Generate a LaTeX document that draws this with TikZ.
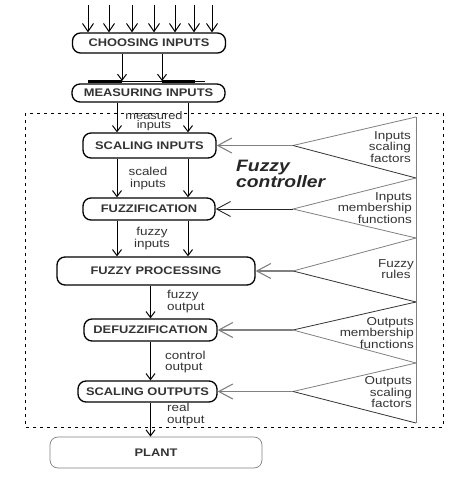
\documentclass[tikz,border=0pt]{standalone}
\usepackage{fontspec}
\setmainfont[FakeStretch=1.17]{Liberation Sans}
\usetikzlibrary{arrows.meta}
\tikzset{
  bloc/.style={draw, line width=1.3pt, rounded corners=8pt, inner sep=0pt, text=black!80,
    font=\bfseries\fontsize{11}{11}\selectfont},
  etiq/.style={inner sep=0pt, align=center, text=black!80, font=\fontsize{11.5}{11.5}\selectfont},
  fleche/.style={line width=1pt, -{Straight Barb[length=6pt,width=9pt]}},
  consigne/.style={line width=1.1pt, -{Straight Barb[length=14pt,width=15pt]}},
  cone/.style={line width=0.8pt}
}
\begin{document}
\begin{tikzpicture}[x=1pt, y=-1pt]
    \useasboundingbox (0,0) rectangle (475,495);
    % Cadre du controleur
    \draw[dashed, dash pattern=on 3pt off 4pt, line width=0.6pt] (25,113) rectangle (443,427);
    % Blocs
    \node[bloc, minimum width=153pt, minimum height=20pt] (choix) at (149,43) {CHOOSING INPUTS};
    \node[bloc, minimum width=153pt, minimum height=18pt] (mesure) at (148.5,93) {MEASURING INPUTS};
    \node[bloc, minimum width=133pt, minimum height=25pt] (echin) at (149.5,145.5) {SCALING INPUTS};
    \node[bloc, minimum width=132pt, minimum height=22pt] (fuzz) at (149,209) {FUZZIFICATION};
    \node[bloc, minimum width=198pt, minimum height=28pt] (proc) at (156,271) {FUZZY PROCESSING};
    \node[bloc, minimum width=133pt, minimum height=22pt] (defuzz) at (150.5,330) {DEFUZZIFICATION};
    \node[bloc, minimum width=139pt, minimum height=21pt] (echout) at (147.5,391.5) {SCALING OUTPUTS};
    \node[bloc, draw=gray, line width=0.7pt, minimum width=212pt, minimum height=31pt] (plant) at (156,452.5) {PLANT};
    % Entrees
    \foreach \x in {88,109,132,154,175,194,212} {
        \coordinate (e\x) at (\x,5);
        \draw[fleche, -{Straight Barb[length=8pt,width=11pt]}] (e\x) -- (e\x |- choix.north);
    }
    % Barre de mesure
    \coordinate (b1) at (88,81);
    \coordinate (b2) at (205,81);
    \coordinate (g) at (122,0);
    \coordinate (d) at (162,0);
    \draw[line width=0.8pt] (b1) -- (b2);
    \draw[line width=3pt] (b1) -- (b1 -| g);
    \draw[line width=3pt] (b1 -| d) -- (195,81);
    \draw[fleche] (choix.south -| g) -- (b1 -| g);
    \draw[fleche] (choix.south -| d) -- (b1 -| d);
    % Fleches verticales
    \coordinate (L) at (117,0);
    \coordinate (R) at (188,0);
    \draw[fleche] (mesure.south -| L) -- (echin.north -| L);
    \draw[fleche] (mesure.south -| R) -- (echin.north -| R);
    \draw[fleche] (echin.south -| L) -- (fuzz.north -| L);
    \draw[fleche] (echin.south -| R) -- (fuzz.north -| R);
    \draw[fleche] (fuzz.south -| L) -- (proc.north -| L);
    \draw[fleche] (fuzz.south -| R) -- (proc.north -| R);
    \draw[fleche] (proc.south -| defuzz.north) -- (defuzz.north);
    \draw[fleche] (defuzz.south) -- (defuzz.south |- echout.north);
    \draw[fleche] (echout.south -| defuzz.south) -- (defuzz.south |- plant.north);
    % Etiquettes des signaux
    \node[etiq, font=\fontsize{11}{9.5}\selectfont] (l1) at (154,121) {measured\\inputs};
    \node[etiq] (l2) at (148,178.5) {scaled\\inputs};
    \node[etiq] (l3) at (152,238.5) {fuzzy\\inputs};
    \node[etiq, align=left, anchor=west] (l4) at (167,301.5) {fuzzy\\output};
    \node[etiq, align=left, anchor=west] (l5) at (165,362) {control\\output};
    \node[etiq, align=left, anchor=west] (l6) at (167,414.5) {real\\output};
    % Titre
    \node[inner sep=0pt, anchor=north west, align=left, text=black!85,
        font=\bfseries\itshape\fontsize{16.5}{16}\selectfont] (titre) at (236,160) {Fuzzy\\controller};
    % Eventails des parametres
    \coordinate (v0) at (416,117);
    \coordinate (v1) at (416,178);
    \coordinate (v2) at (416,238);
    \coordinate (v3) at (416,302);
    \coordinate (v4) at (416,363);
    \coordinate (v5) at (416,423);
    \coordinate (a1) at (293,145.5);
    \coordinate (a2) at (293,209);
    \coordinate (a3) at (293,271);
    \coordinate (a4) at (293,330);
    \coordinate (a5) at (293,391.5);
    \draw[cone, gray] (v0) -- (v5);
    \draw[cone, gray] (v0) -- (a1);
    \draw[cone, black!80] (a1) -- (v1);
    \draw[cone, gray] (v1) -- (a2) -- (v2);
    \draw[cone, gray] (v2) -- (a3);
    \draw[cone, black!80] (a3) -- (v3);
    \draw[cone, black!80] (v3) -- (a4);
    \draw[cone, gray] (a4) -- (v4);
    \draw[cone, gray] (v4) -- (a5);
    \draw[cone, black!80] (a5) -- (v5);
    \draw[consigne, gray] (a1) -- (echin.east);
    \draw[consigne, black!85, line width=0.9pt] (a2) -- (fuzz.east);
    \draw[consigne, gray] (a3) -- (proc.east);
    \draw[consigne, gray] (a4) -- (defuzz.east);
    \draw[consigne, gray] (a5) -- (echout.east);
    % Textes des parametres
    \node[etiq, align=right, anchor=east] (p1) at (411,147) {Inputs\\scaling\\factors};
    \node[etiq, align=right, anchor=east] (p2) at (412,208) {Inputs\\membership\\functions};
    \node[etiq] (p3) at (396,269) {Fuzzy\\rules};
    \node[etiq, align=right, anchor=east] (p4) at (414,333) {Outputs\\membership\\functions};
    \node[etiq, align=right, anchor=east] (p5) at (412,392.5) {Outputs\\scaling\\factors};
\end{tikzpicture}
\end{document}
